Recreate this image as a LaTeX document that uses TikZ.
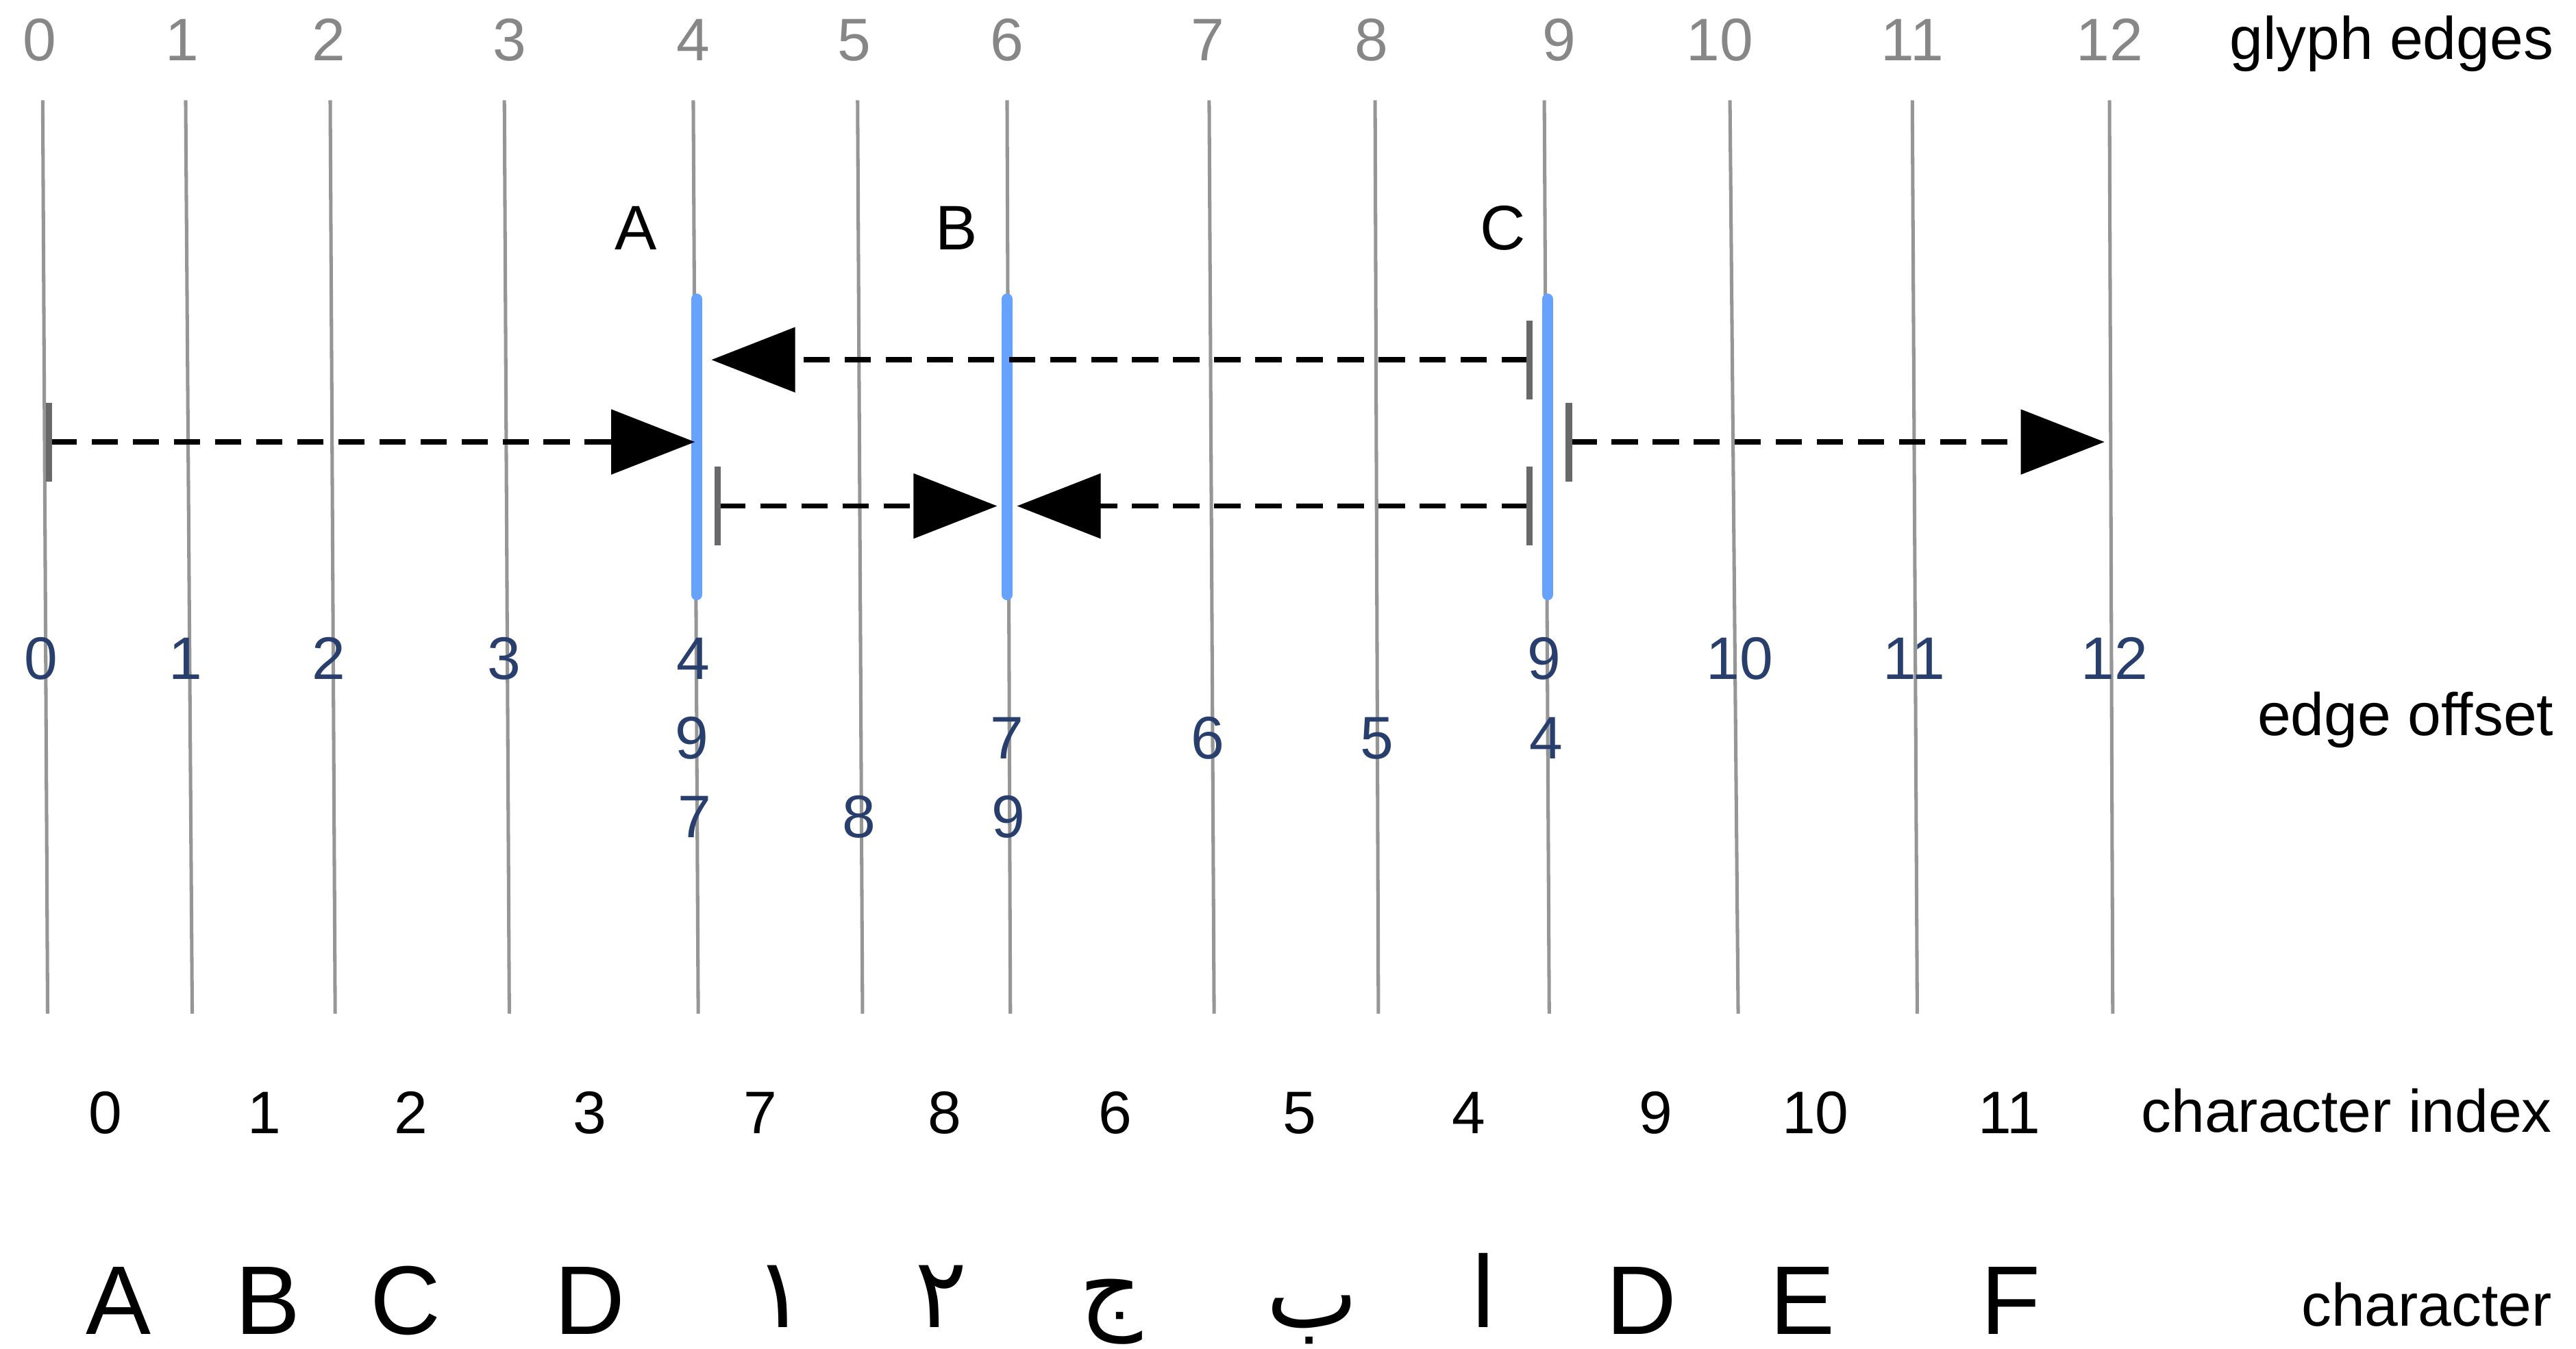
\documentclass[tikz,border=0pt]{standalone}
\usepackage{fontspec}
\setmainfont{Liberation Sans}
\newfontfamily\arabicfont[Script=Arabic]{DejaVu Sans}
\TeXXeTstate=1
\usetikzlibrary{arrows.meta}

\definecolor{linegray}{RGB}{150,150,150}
\definecolor{numgray}{RGB}{135,135,135}
\definecolor{tickgray}{RGB}{105,105,105}
\definecolor{clusterblue}{RGB}{102,163,255}
\definecolor{offblue}{RGB}{40,62,108}
\newcommand{\lblfont}{\fontsize{10.4}{12}\selectfont}
\newcommand{\chrfont}{\fontsize{16.9}{19}\selectfont}

\begin{document}
\begin{tikzpicture}[
	gedge/.style={draw=linegray, line width=0.6pt},
	cluster/.style={draw=clusterblue, line width=1.9pt, line cap=round},
	offsetarrow/.style={draw=black, line width=0.9pt, dash pattern=on 1.6mm off 0.9mm,
		{Bar[width=4.8mm,line width=1.1pt,color=tickgray]}-{Triangle[length=5.1mm,width=3.9mm]}},
	edgenum/.style={anchor=base, inner sep=0pt, text=numgray, font=\lblfont},
	offnum/.style={anchor=base, inner sep=0pt, text=offblue, font=\lblfont},
	idxnum/.style={anchor=base, inner sep=0pt, font=\lblfont},
	glyph/.style={anchor=base, inner sep=0pt, font=\chrfont},
	rowlabel/.style={anchor=base east, inner sep=0pt, font=\lblfont},
	clusterlabel/.style={anchor=base, inner sep=0pt, font=\fontsize{10.9}{12}\selectfont}]
	\useasboundingbox (0,0) rectangle (15.68,-8.207);

	%GLYPH EDGES
	\foreach \n/\t/\b/\l in {0/0.26/0.29/0.24, 1/1.13/1.17/1.11, 2/2.01/2.04/2.00, 3/3.07/3.10/3.10,
		4/4.22/4.25/4.22, 5/5.22/5.25/5.20, 6/6.13/6.15/6.13, 7/7.36/7.39/7.35, 8/8.37/8.39/8.35,
		9/9.40/9.43/9.49, 10/10.53/10.58/10.47, 11/11.64/11.67/11.64, 12/12.84/12.86/12.84}
	{
		\draw[gedge] (\t,-0.61) coordinate (top\n) -- (\b,-6.17) coordinate (bot\n);
		\node[edgenum] (edge\n) at (\l,-0.37) {\n};
	}
	\node[rowlabel] (glyphedges) at (15.55,-0.36) {glyph edges};

	%CLUSTERS
	\draw[cluster] (4.24,-1.82) coordinate (Ahi) -- (4.24,-3.62) coordinate (Alo);
	\draw[cluster] (6.13,-1.82) coordinate (Bhi) -- (6.13,-3.62) coordinate (Blo);
	\draw[cluster] (9.42,-1.82) coordinate (Chi) -- (9.42,-3.62) coordinate (Clo);
	\node[clusterlabel] (A) at (3.87,-1.52) {A};
	\node[clusterlabel] (B) at (5.82,-1.52) {B};
	\node[clusterlabel] (C) at (9.15,-1.52) {C};

	%OFFSET ARROWS
	\coordinate (startL) at (0.28,-2.69);
	\coordinate (tipA) at (4.23,-2.69);
	\coordinate (tickCa) at (9.33,-2.19);
	\coordinate (tipAb) at (4.33,-2.19);
	\coordinate (tickA) at (4.35,-3.08);
	\coordinate (tipBa) at (6.07,-3.08);
	\coordinate (tickCb) at (9.33,-3.08);
	\coordinate (tipBb) at (6.19,-3.08);
	\coordinate (tickCc) at (9.53,-2.69);
	\coordinate (tipR) at (12.81,-2.69);
	\draw[offsetarrow] (startL)--(tipA);
	\draw[offsetarrow] (tickCa)--(tipAb);
	\draw[offsetarrow] (tickA)--(tipBa);
	\draw[offsetarrow] (tickCb)--(tipBb);
	\draw[offsetarrow] (tickCc)--(tipR);

	%EDGE OFFSETS
	\foreach \x/\v in {0.25/0, 1.13/1, 2.00/2, 3.07/3, 4.22/4, 9.40/9, 10.59/10, 11.65/11, 12.87/12}
		\node[offnum] (offa\v) at (\x,-4.135) {\v};
	\foreach \x/\v in {4.21/9, 6.13/7, 7.35/6, 8.38/5, 9.41/4}
		\node[offnum] (offb\v) at (\x,-4.62) {\v};
	\foreach \x/\v in {4.23/7, 5.23/8, 6.14/9}
		\node[offnum] (offc\v) at (\x,-5.10) {\v};
	\node[rowlabel] (edgeoffset) at (15.55,-4.475) {edge offset};

	%CHARACTER INDEX
	\foreach \x/\v in {0.64/0, 1.61/1, 2.50/2, 3.59/3, 4.63/7, 5.75/8, 6.79/6, 7.91/5, 8.94/4, 10.08/9, 11.05/10, 12.23/11}
		\node[idxnum] (idx\v) at (\x,-6.90) {\v};
	\node[rowlabel] (charindex) at (15.54,-6.89) {character index};

	%CHARACTERS
	\foreach \x/\c/\m in {0.72/A/A, 1.63/B/B, 2.47/C/C, 3.59/D/D, 9.99/D/Dr, 10.97/E/E, 12.24/F/F}
		\node[glyph] (chr\m) at (\x,-8.12) {\c};
	\foreach \x/\y/\c/\m in {4.75/-8.08/١/one, 5.73/-8.08/٢/two, 6.76/-8.04/ج/jeem, 7.99/-8.08/ب/beh, 9.03/-8.08/ا/alef}
		\node[glyph] (chr\m) at (\x,\y) {\arabicfont\beginR \c\endR};
	\node[rowlabel] (character) at (15.54,-8.07) {character};
\end{tikzpicture}
\end{document}
